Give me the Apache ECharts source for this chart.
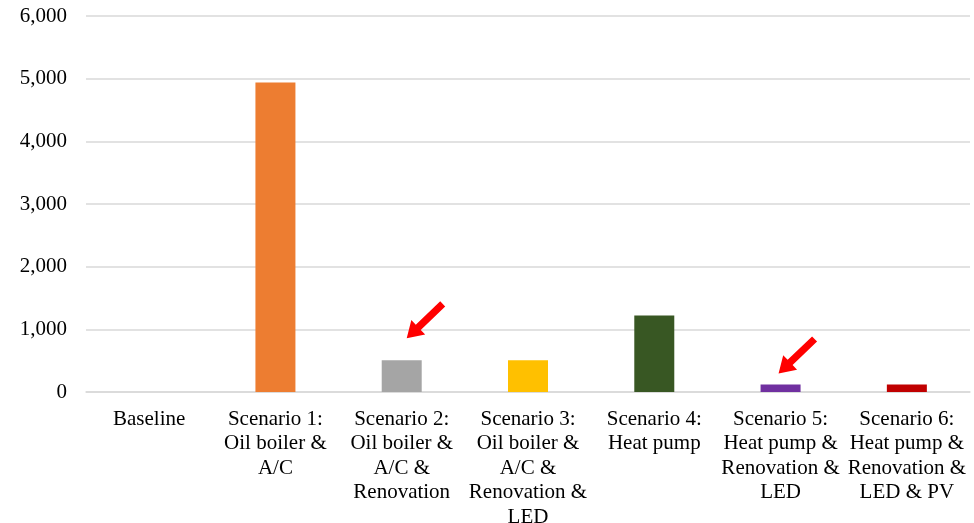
<!DOCTYPE html>
<html>
<head>
<meta charset="utf-8">
<script src="https://cdn.jsdelivr.net/npm/echarts@6/dist/echarts.min.js"></script>
<style>
  html, body { margin: 0; padding: 0; background: #ffffff; }
  #chart { width: 974px; height: 523px; }
</style>
</head>
<body>
<div id="chart"></div>
<script>
// Scenario names (multi-line axis labels)
const categories = [
  'Baseline',
  'Scenario 1:\nOil boiler &\nA/C',
  'Scenario 2:\nOil boiler &\nA/C &\nRenovation',
  'Scenario 3:\nOil boiler &\nA/C &\nRenovation &\nLED',
  'Scenario 4:\nHeat pump',
  'Scenario 5:\nHeat pump &\nRenovation &\nLED',
  'Scenario 6:\nHeat pump &\nRenovation &\nLED & PV'
];
// Value for each scenario
const values = [0, 4940, 505, 505, 1220, 120, 120];
// Value axis ticks
const yTicks = [0, 1000, 2000, 3000, 4000, 5000, 6000];
// Scenarios highlighted with an arrow
const highlighted = [2, 5];

const barColors = ['#4472C4', '#ED7D31', '#A5A5A5', '#FFC000', '#385723', '#7030A0', '#C00000'];
const FONT = '"Liberation Serif", "Times New Roman", serif';

const chart = echarts.init(document.getElementById('chart'), null, { renderer: 'canvas' });

chart.setOption({
  backgroundColor: '#ffffff',
  animation: false,
  grid: { left: 86, right: 4, top: 16, bottom: 131, containLabel: false, outerBoundsMode: 'none' },
  xAxis: {
    type: 'category',
    data: categories,
    axisLine: { show: true, lineStyle: { color: '#d9d9d9', width: 1.5 } },
    axisTick: { show: false },
    axisLabel: {
      interval: 0,
      margin: 15,
      color: '#000000',
      fontFamily: FONT,
      fontSize: 21,
      lineHeight: 24.5,
      align: 'center'
    }
  },
  yAxis: {
    type: 'value',
    min: yTicks[0],
    max: yTicks[yTicks.length - 1],
    interval: yTicks[1] - yTicks[0],
    axisLine: { show: false },
    axisTick: { show: false },
    splitLine: { show: true, lineStyle: { color: '#d9d9d9', width: 1.5 } },
    axisLabel: {
      margin: 19,
      color: '#000000',
      fontFamily: FONT,
      fontSize: 21,
      formatter: v => v.toLocaleString('en-US')
    }
  },
  series: [{
    type: 'bar',
    barWidth: 40,
    data: values.map((v, i) => ({ value: v, itemStyle: { color: barColors[i] } }))
  }]
});

// Red arrows pointing at the highlighted bars, anchored to the bar tops
function arrowPolygon(tip, tail) {
  const dx = tail[0] - tip[0], dy = tail[1] - tip[1];
  const len = Math.hypot(dx, dy);
  const d = [dx / len, dy / len];
  const n = [-d[1], d[0]];
  const h = 16, w = 10, s = 3.6;
  const p = (a, b) => [tip[0] + a * d[0] + b * n[0], tip[1] + a * d[1] + b * n[1]];
  return [tip, p(h, w), p(h, s), p(len, s), p(len, -s), p(h, -s), p(h, -w)];
}

const arrowOffsets = [[5, -22], [-2, -11]];
const graphics = highlighted.map((ci, k) => {
  const top = chart.convertToPixel({ gridIndex: 0 }, [ci, values[ci]]);
  const tip = [top[0] + arrowOffsets[k][0], top[1] + arrowOffsets[k][1]];
  const tail = [tip[0] + 36, tip[1] - 34.5];
  return {
    type: 'polygon',
    shape: { points: arrowPolygon(tip, tail) },
    style: { fill: '#FF0000' },
    z: 100
  };
});
chart.setOption({ graphic: graphics });
</script>
</body>
</html>
